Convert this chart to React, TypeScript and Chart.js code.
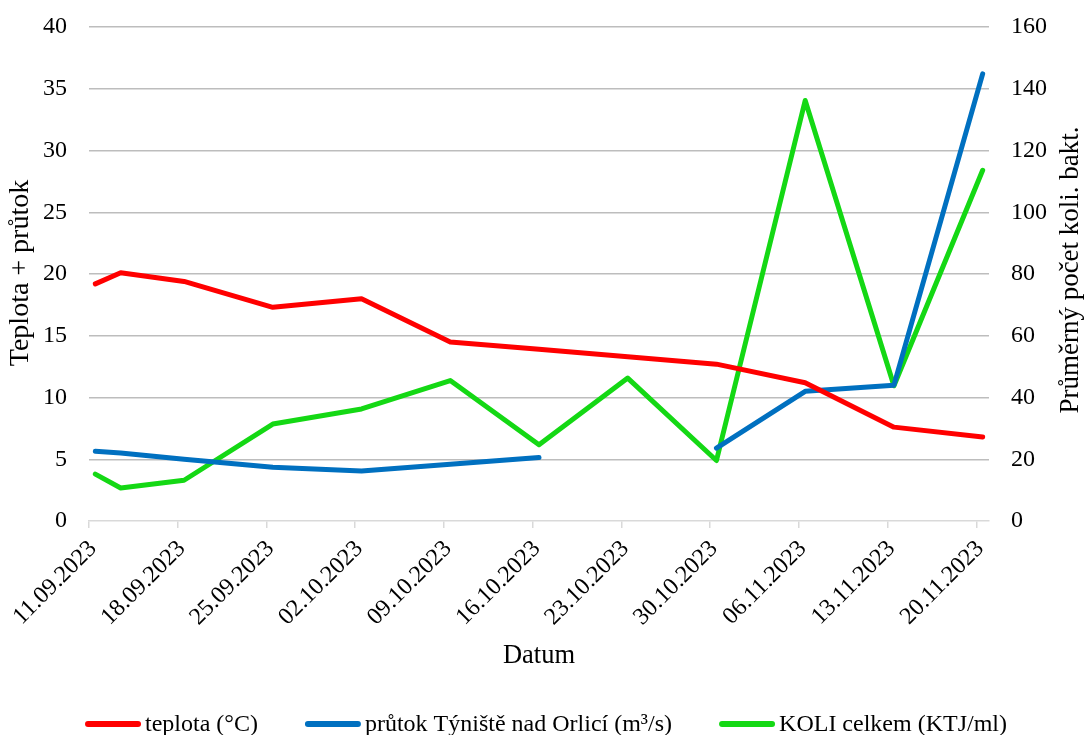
import React, { useEffect, useRef } from 'react';
import { Chart, registerables } from 'chart.js';

Chart.register(...registerables);

// ---- data ----
const sampleDates = [
  '11.09.2023', '13.09.2023', '18.09.2023', '25.09.2023', '02.10.2023', '09.10.2023',
  '16.10.2023', '23.10.2023', '30.10.2023', '06.11.2023', '13.11.2023', '20.11.2023',
];
const teplota = [19.2, 20.1, 19.4, 17.3, 18.0, 14.5, 13.9, 13.3, 12.7, 11.2, 7.6, 6.8];
const prutok = [5.65, 5.5, 5.0, 4.35, 4.05, 4.6, 5.15, null, 5.9, 10.5, 11.0, 36.2];
const koli = [15.2, 10.7, 13.2, 31.4, 36.3, 45.5, 24.7, 46.3, 19.6, 136.2, 43.8, 113.6];

const axisStart = '11.09.2023';
const axisEnd = '21.11.2023';
const tickStepDays = 7;
const leftMin = 0, leftMax = 40, leftStep = 5;
const rightMin = 0, rightMax = 160, rightStep = 20;

const seriesLabels = ['teplota (°C)', 'průtok Týniště nad Orlicí (m³/s)', 'KOLI celkem (KTJ/ml)'];
const seriesColors = ['#ff0000', '#0070c0', '#14d814'];
const leftTitle = 'Teplota + průtok';
const rightTitle = 'Průměrný počet koli. bakt.';
const xTitle = 'Datum';

// ---- helpers ----
const parseDate = (s: string) => {
  const [d, m, y] = s.split('.').map(Number);
  return Date.UTC(y, m - 1, d);
};
const DAY = 86400000;
const t0 = parseDate(axisStart);
const dayOf = (s: string) => Math.round((parseDate(s) - t0) / DAY);
const fmt = (day: number) => {
  const d = new Date(t0 + day * DAY);
  const dd = String(d.getUTCDate()).padStart(2, '0');
  const mm = String(d.getUTCMonth() + 1).padStart(2, '0');
  return `${dd}.${mm}.${d.getUTCFullYear()}`;
};
// Excel date axis places points in the middle of their day slot
const toPoints = (vals: (number | null)[]) =>
  sampleDates.map((s, i) => ({ x: dayOf(s) + 0.5, y: vals[i] }));

const FONT = "'Liberation Serif', 'Times New Roman', serif";
const TICK_SIZE = 24;

const overlayPlugin = {
  id: 'overlay',
  afterDraw(chart: any) {
    const ctx = chart.ctx as CanvasRenderingContext2D;
    const area = chart.chartArea;
    const xs = chart.scales.x;
    ctx.save();
    ctx.fillStyle = '#000';

    // rotated x tick labels
    ctx.font = `${TICK_SIZE}px ${FONT}`;
    ctx.textAlign = 'right';
    ctx.textBaseline = 'middle';
    xs.ticks.forEach((t: any) => {
      const px = xs.getPixelForValue(t.value);
      ctx.save();
      ctx.translate(px + 4, area.bottom + 24);
      ctx.rotate(-Math.PI / 4);
      ctx.fillText(fmt(t.value), 0, 0);
      ctx.restore();
    });

    // axis titles
    ctx.textAlign = 'center';
    ctx.textBaseline = 'middle';
    const midY = (area.top + area.bottom) / 2 - 1;
    ctx.font = `28px ${FONT}`;
    ctx.save();
    ctx.translate(21, midY);
    ctx.rotate(-Math.PI / 2);
    ctx.fillText(leftTitle, 0, 0);
    ctx.restore();
    ctx.font = `27px ${FONT}`;
    ctx.save();
    ctx.translate(1071, midY - 3);
    ctx.rotate(-Math.PI / 2);
    ctx.fillText(rightTitle, 0, 0);
    ctx.restore();
    ctx.font = `26.5px ${FONT}`;
    ctx.fillText(xTitle, (area.left + area.right) / 2, 656);

    // legend
    ctx.font = `24px ${FONT}`;
    const lineLen = 56, gapText = 4, gapItem = 47;
    const widths = seriesLabels.map((l) => ctx.measureText(l).width);
    const total = widths.reduce((a, w) => a + lineLen + gapText + w, 0) + gapItem * (seriesLabels.length - 1);
    let x = 546 - total / 2;
    const ly = 724;
    ctx.textAlign = 'left';
    seriesLabels.forEach((l, i) => {
      ctx.strokeStyle = seriesColors[i];
      ctx.lineWidth = 6;
      ctx.lineCap = 'round';
      ctx.beginPath();
      ctx.moveTo(x + 3, ly);
      ctx.lineTo(x + lineLen - 3, ly);
      ctx.stroke();
      ctx.fillText(l, x + lineLen + gapText, ly + 1);
      x += lineLen + gapText + widths[i] + gapItem;
    });
    ctx.restore();
  },
};

export default function App() {
  const ref = useRef<HTMLCanvasElement | null>(null);
  useEffect(() => {
    if (!ref.current) return;
    const mk = (i: number, data: any[], axis: string) => ({
      label: seriesLabels[i],
      data,
      yAxisID: axis,
      borderColor: seriesColors[i],
      backgroundColor: seriesColors[i],
      borderWidth: 5,
      borderCapStyle: 'round' as const,
      borderJoinStyle: 'round' as const,
      pointRadius: 0,
      pointHoverRadius: 0,
      tension: 0,
      spanGaps: false,
      fill: false,
    });
    const vFit = (w: number) => (s: any) => {
      s.width = w;
      s.paddingTop = 10;
      s.paddingBottom = 10;
    };
    const chart = new Chart(ref.current, {
      type: 'line',
      data: {
        datasets: [
          mk(0, toPoints(teplota), 'y'),
          mk(1, toPoints(prutok), 'y'),
          mk(2, toPoints(koli), 'y1'),
        ],
      },
      options: {
        animation: false,
        responsive: false,
        layout: { padding: { top: 27, left: 0, right: 0, bottom: 64 } },
        plugins: { legend: { display: false }, tooltip: { enabled: false } },
        scales: {
          x: {
            type: 'linear',
            position: 'bottom',
            min: 0,
            max: dayOf(axisEnd),
            bounds: 'data',
            afterFit: (s: any) => { s.height = 150; s.paddingLeft = 0; s.paddingRight = 0; },
            afterBuildTicks: (s: any) => {
              s.ticks = s.ticks.filter((t: any) => t.value % tickStepDays === 0);
            },
            border: { display: true, color: '#d9d9d9', width: 1.5 },
            grid: { display: true, drawOnChartArea: false, drawTicks: true, tickLength: 7, color: '#d9d9d9', lineWidth: 1.5 },
            ticks: {
              stepSize: tickStepDays,
              autoSkip: false,
              display: false,
              callback: (v: any) => fmt(Number(v)),
            },
          },
          y: {
            position: 'left',
            min: leftMin,
            max: leftMax,
            afterFit: vFit(89),
            border: { display: false },
            grid: {
              drawTicks: false,
              color: (c: any) => (c.tick && c.tick.value === 0 ? 'rgba(0,0,0,0)' : '#bdbdbd'),
              lineWidth: 1.5,
            },
            ticks: { stepSize: leftStep, padding: 22, color: '#000', font: { family: FONT, size: TICK_SIZE } },
          },
          y1: {
            position: 'right',
            min: rightMin,
            max: rightMax,
            afterFit: vFit(95),
            border: { display: false },
            grid: { drawOnChartArea: false, drawTicks: false },
            ticks: { stepSize: rightStep, padding: 22, color: '#000', font: { family: FONT, size: TICK_SIZE } },
          },
        },
      },
      plugins: [overlayPlugin],
    });
    return () => chart.destroy();
  }, []);
  return (
    <div style={{ position: 'absolute', left: 0, top: 0, width: 1084, height: 735, background: '#fff' }}>
      <canvas ref={ref} width={1084} height={735} style={{ display: 'block' }} />
    </div>
  );
}
